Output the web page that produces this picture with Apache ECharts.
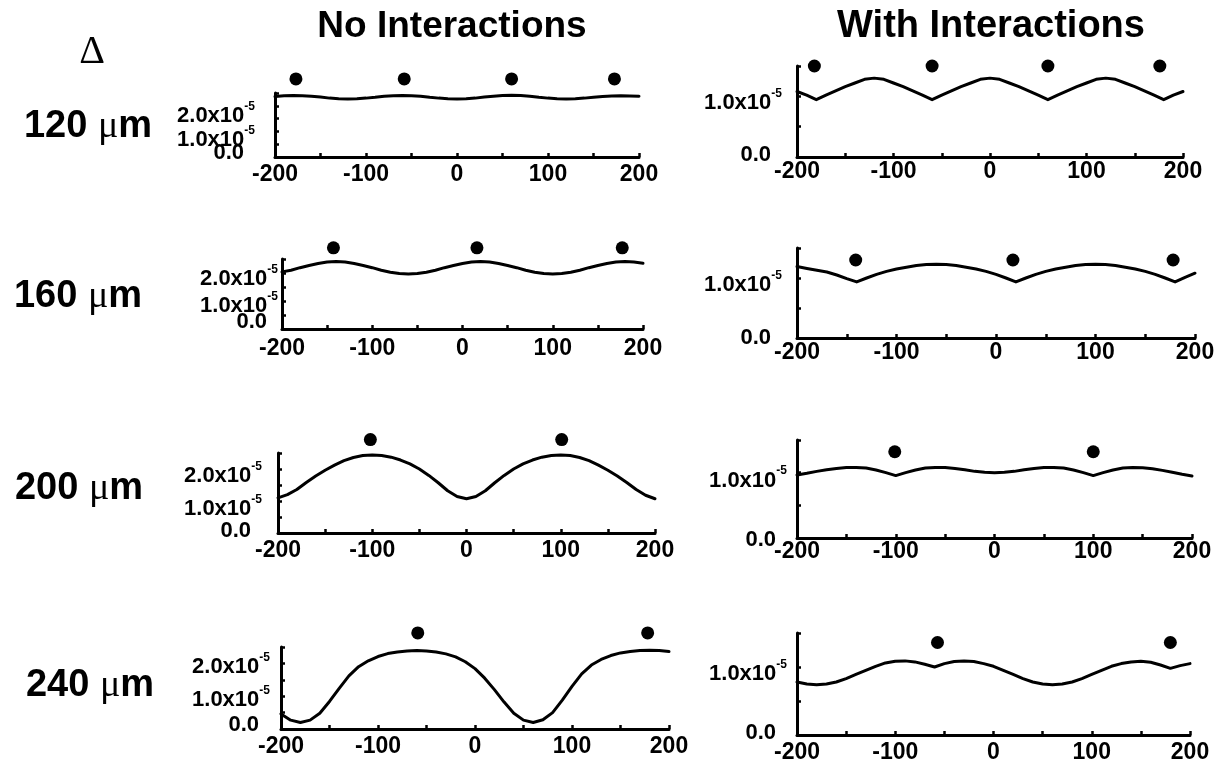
<!DOCTYPE html>
<html><head><meta charset="utf-8">
<script src="https://cdn.jsdelivr.net/npm/echarts@6/dist/echarts.min.js"></script>
<style>html,body{margin:0;padding:0;background:#fff}#c{width:1230px;height:763px}</style>
</head><body><div id="c"></div>
<script>
// ---------- DATA (values in units of 1e-5) ----------
const xPositions = [-200,-190,-180,-170,-160,-150,-140,-130,-120,-110,-100,-90,-80,-70,-60,-50,-40,-30,-20,-10,0,10,20,30,40,50,60,70,80,90,100,110,120,130,140,150,160,170,180,190,200];
const columnTitles = ['No Interactions', 'With Interactions'];
const rowDeltas = ['120', '160', '200', '240'];
const xTickLabels = ['-200', '-100', '0', '100', '200'];

// No Interactions
const noInt120 = [2.36,2.39,2.40,2.39,2.37,2.34,2.30,2.28,2.27,2.28,2.30,2.33,2.37,2.39,2.40,2.39,2.37,2.33,2.30,2.28,2.27,2.28,2.30,2.34,2.37,2.40,2.41,2.40,2.37,2.33,2.30,2.28,2.27,2.28,2.30,2.33,2.36,2.38,2.39,2.38,2.37];
const noInt160 = [2.04,2.10,2.19,2.27,2.34,2.39,2.41,2.39,2.34,2.27,2.19,2.10,2.03,1.98,1.96,1.98,2.03,2.10,2.19,2.27,2.34,2.39,2.41,2.39,2.34,2.27,2.19,2.10,2.03,1.98,1.96,1.98,2.03,2.10,2.19,2.27,2.34,2.39,2.41,2.39,2.35];
const noInt200 = [1.10,1.20,1.36,1.58,1.78,1.96,2.12,2.26,2.36,2.42,2.44,2.42,2.37,2.28,2.16,2.00,1.80,1.57,1.32,1.14,1.07,1.14,1.32,1.57,1.80,2.00,2.16,2.28,2.37,2.42,2.44,2.42,2.36,2.26,2.12,1.96,1.78,1.58,1.36,1.18,1.07];
const noInt240 = [0.46,0.27,0.20,0.27,0.48,0.84,1.24,1.62,1.90,2.08,2.21,2.30,2.35,2.38,2.39,2.38,2.35,2.29,2.20,2.05,1.84,1.55,1.20,0.82,0.48,0.27,0.20,0.28,0.50,0.88,1.30,1.68,1.95,2.12,2.24,2.32,2.36,2.39,2.40,2.39,2.36];
// With Interactions
const withInt120 = [1.08,1.02,0.945,1.02,1.09,1.16,1.22,1.28,1.30,1.28,1.22,1.16,1.09,1.02,0.945,1.02,1.09,1.16,1.22,1.28,1.30,1.28,1.22,1.16,1.09,1.02,0.945,1.02,1.09,1.16,1.22,1.28,1.30,1.28,1.22,1.16,1.09,1.02,0.945,1.02,1.08];
const withInt160 = [1.19,1.16,1.13,1.10,1.05,0.99,0.935,1.00,1.06,1.11,1.15,1.18,1.21,1.225,1.23,1.225,1.21,1.18,1.15,1.11,1.06,1.00,0.935,1.00,1.06,1.11,1.15,1.18,1.21,1.225,1.23,1.225,1.21,1.18,1.15,1.11,1.06,1.00,0.935,1.01,1.08];
const withInt200 = [0.965,0.99,1.02,1.045,1.065,1.078,1.08,1.07,1.04,1.00,0.955,1.00,1.04,1.07,1.08,1.078,1.065,1.045,1.02,1.005,1.00,1.005,1.02,1.045,1.065,1.078,1.08,1.07,1.04,1.00,0.955,1.00,1.04,1.07,1.08,1.075,1.06,1.035,1.005,0.975,0.95];
const withInt240 = [0.78,0.75,0.74,0.75,0.78,0.83,0.89,0.95,1.01,1.06,1.085,1.09,1.075,1.04,1.00,1.05,1.08,1.09,1.08,1.05,1.01,0.95,0.89,0.83,0.78,0.75,0.74,0.75,0.78,0.83,0.89,0.95,1.01,1.05,1.075,1.085,1.07,1.03,0.98,1.02,1.05];

// Dot (site) positions and their heights
const dotsNo120 = [-177,-58,60,173];   const dotYNo120 = 3.05;
const dotsNo160 = [-143,16,177];       const dotYNo160 = 2.90;
const dotsNo200 = [-102,101];          const dotYNo200 = 2.92;
const dotsNo240 = [-59,178];           const dotYNo240 = 2.93;
const dotsWith120 = [-182,-60,60,176]; const dotYWith120 = 1.50;
const dotsWith160 = [-141,17,178];     const dotYWith160 = 1.30;
const dotsWith200 = [-101,100];        const dotYWith200 = 1.32;
const dotsWith240 = [-57,180];         const dotYWith240 = 1.36;

// ---------- LAYOUT ----------
// lo: vertical pixel shift of the y labels (for values 0, 1, 2)
const panels = [
  {curve: noInt120, dots: dotsNo120, dotY: dotYNo120, ymax: 2.5, labels: [0,1,2], g:{left:275,top:93,width:364,height:64}, ym:20, xm:6, lo:[-4,9,10]},
  {curve: noInt160, dots: dotsNo160, dotY: dotYNo160, ymax: 2.5, labels: [0,1,2], g:{left:282,top:259,width:361,height:70}, ym:4, xm:8, lo:[-7,5,6]},
  {curve: noInt200, dots: dotsNo200, dotY: dotYNo200, ymax: 2.5, labels: [0,1,2], g:{left:278,top:453,width:377,height:80}, ym:16, xm:6, lo:[-2,8,7]},
  {curve: noInt240, dots: dotsNo240, dotY: dotYNo240, ymax: 2.5, labels: [0,1,2], g:{left:281,top:647,width:388,height:82}, ym:11, xm:6, lo:[-4,4,4]},
  {curve: withInt120, dots: dotsWith120, dotY: dotYWith120, ymax: 1.5, labels: [0,1], g:{left:797,top:66,width:386,height:91}, ym:15, xm:3, lo:[-2,7]},
  {curve: withInt160, dots: dotsWith160, dotY: dotYWith160, ymax: 1.5, labels: [0,1], g:{left:797,top:248,width:398,height:90}, ym:15, xm:3, lo:[0,7]},
  {curve: withInt200, dots: dotsWith200, dotY: dotYWith200, ymax: 1.5, labels: [0,1], g:{left:797,top:440,width:395,height:98}, ym:10, xm:2, lo:[2,8]},
  {curve: withInt240, dots: dotsWith240, dotY: dotYWith240, ymax: 1.5, labels: [0,1], g:{left:797,top:633,width:393,height:102}, ym:10, xm:6, lo:[-2,7]}
];

const FONT = '"Liberation Sans", Arial, Helvetica, sans-serif';
const LFS = 22;   // y label font size
const SUPW = 11;  // superscript width, used to align "0.0" with the main text
function yRich(lo) {
  const base = {fontFamily:FONT, fontWeight:'bold', fontSize:LFS, color:'#000'};
  const sup = {fontFamily:FONT, fontWeight:'bold', fontSize:12, color:'#000', verticalAlign:'top'};
  const d0 = lo[0];
  const rich = {z: Object.assign({}, base, {padding:[d0 > 0 ? 2*d0 : 0, SUPW, d0 < 0 ? -2*d0 : 0, 0]})};
  for (let k = 1; k < lo.length; k++) {
    const P = Math.max(0, 2*lo[k]);
    rich['m' + k] = Object.assign({}, base, {padding:[P,0,0,0]});
    rich['s' + k] = Object.assign({}, sup, {padding:[Math.max(0, P - 4.6),0,0,0]});
  }
  return rich;
}

const grids = [], xAxes = [], yAxes = [], series = [];
panels.forEach((p, i) => {
  grids.push(Object.assign({containLabel:false, outerBoundsMode:'none'}, p.g));
  xAxes.push({
    type:'value', gridIndex:i, min:-200, max:200, interval:50,
    splitLine:{show:false},
    axisLine:{show:true, onZero:false, lineStyle:{color:'#000', width:3}},
    axisTick:{show:true, inside:true, length:4, lineStyle:{color:'#000', width:2.5}},
    axisLabel:{
      margin:p.xm, color:'#000', fontFamily:FONT, fontWeight:'bold', fontSize:23,
      formatter: v => (xTickLabels.indexOf(String(v)) >= 0 ? String(v) : '')
    }
  });
  yAxes.push({
    type:'value', gridIndex:i, min:0, max:p.ymax, interval:0.5,
    splitLine:{show:false},
    axisLine:{show:true, onZero:false, lineStyle:{color:'#000', width:3}},
    axisTick:{show:true, inside:true, length:4, lineStyle:{color:'#000', width:2.5}},
    axisLabel:{
      margin:p.ym, color:'#000', fontFamily:FONT, fontWeight:'bold', fontSize:LFS,
      formatter: v => {
        if (Math.abs(v) < 1e-9 && p.labels.indexOf(0) >= 0) return '{z|0.0}';
        for (const k of [1,2]) {
          if (Math.abs(v - k) < 1e-9 && p.labels.indexOf(k) >= 0) return '{m' + k + '|' + k.toFixed(1) + 'x10}{s' + k + '|-5}';
        }
        return '';
      },
      rich: yRich(p.lo)
    }
  });
  series.push({
    type:'line', xAxisIndex:i, yAxisIndex:i, symbol:'none', silent:true,
    data: xPositions.map((x, k) => [x, p.curve[k]]),
    lineStyle:{color:'#000', width:3, join:'round', cap:'round'}
  });
  series.push({
    type:'scatter', xAxisIndex:i, yAxisIndex:i, clip:false, symbol:'circle', symbolSize:13,
    data: p.dots.map(x => [x, p.dotY]),
    itemStyle:{color:'#000', opacity:1}
  });
});

const graphics = [
  {type:'text', x:452, y:27, style:{text:columnTitles[0], font:'bold 37px ' + FONT, fill:'#000', align:'center', verticalAlign:'middle', textAlign:'center', textVerticalAlign:'middle'}},
  {type:'text', x:991, y:27, style:{text:columnTitles[1], font:'bold 38px ' + FONT, fill:'#000', align:'center', verticalAlign:'middle', textAlign:'center', textVerticalAlign:'middle'}},
  {type:'text', x:92, y:52, style:{text:'Δ', font:'40px "Liberation Serif", "DejaVu Serif", serif', fill:'#000', align:'center', verticalAlign:'middle', textAlign:'center', textVerticalAlign:'middle'}}
];
const rowCenters = [[88,127],[78,297],[79,489],[90,686]];
rowDeltas.forEach((d, r) => {
  graphics.push({type:'text', x:rowCenters[r][0], y:rowCenters[r][1], style:{
    text:'{n|' + d + ' }{u|μ}{n|m}', align:'center', verticalAlign:'middle', textAlign:'center', textVerticalAlign:'middle',
    rich:{
      n:{fontFamily:FONT, fontWeight:'bold', fontSize:38, fill:'#000', color:'#000'},
      u:{fontFamily:'"Liberation Serif", serif', fontSize:38, fill:'#000', color:'#000'}
    }
  }});
});

const chart = echarts.init(document.getElementById('c'), null, {renderer:'canvas'});
chart.setOption({animation:false, backgroundColor:'#fff', grid:grids, xAxis:xAxes, yAxis:yAxes, series:series, graphic:graphics});
</script></body></html>
